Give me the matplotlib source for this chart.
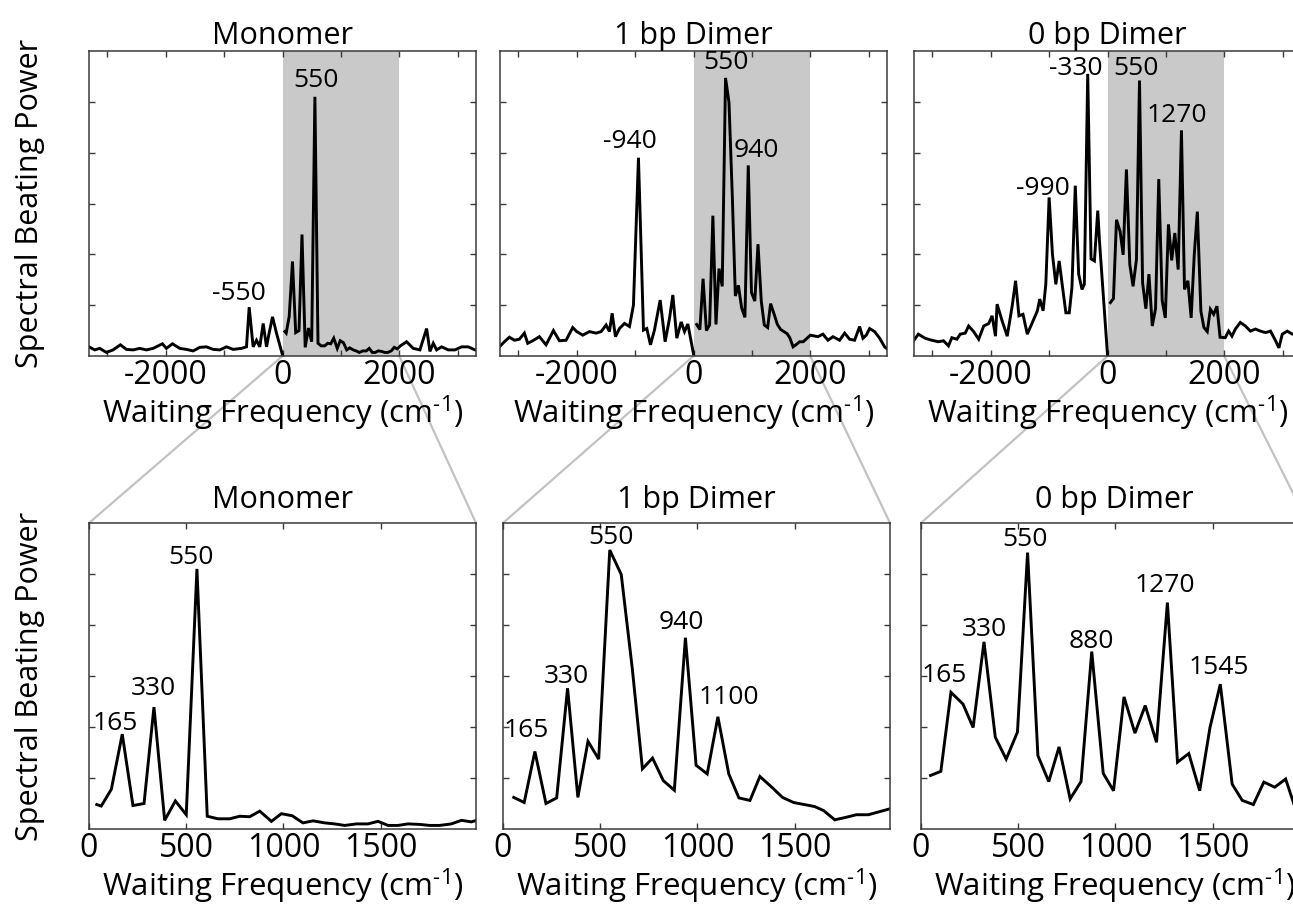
#!/usr/bin/env python3
# coding: utf-8

import numpy
import matplotlib
matplotlib.use('Agg')
from matplotlib import pyplot as plt
from matplotlib.patches import ConnectionPatch
from matplotlib.ticker import FixedLocator, FixedFormatter


TITLES = ['Monomer', '1 bp Dimer', '0 bp Dimer']
YLABEL = 'Spectral Beating Power'
XLABEL = 'Waiting Frequency (cm$^{\\text{-1}}$)'

# --- Monomer -------------------------------------------------------------
MONO_NEG_FREQ = [-3315, -3217, -3131, -3017, -2903, -2777, -2674, -2560, -2446, -2331,
                 -2217, -2057, -1989, -1886, -1760, -1646, -1531, -1417, -1303, -1189,
                 -1074, -960, -846, -703, -617, -571, -503, -446, -389, -331,
                 -274, -229, -171, -103, 0]
MONO_NEG_POW = [0.18, 0.12, 0.15, 0.07, 0.12, 0.22, 0.13, 0.12, 0.15, 0.12,
                0.15, 0.24, 0.15, 0.24, 0.15, 0.13, 0.10, 0.17, 0.18, 0.13,
                0.12, 0.18, 0.13, 0.15, 0.18, 0.96, 0.18, 0.31, 0.18, 0.64,
                0.18, 0.45, 0.77, 0.45, 0.02]
MONO_POS_FREQ = [40, 63, 115, 171, 226, 283, 334, 389, 444, 500,
                 555, 608, 663, 723, 775, 826, 878, 938, 989, 1045,
                 1100, 1152, 1212, 1263, 1315, 1375, 1435, 1486, 1538, 1589,
                 1640, 1700, 1752, 1803, 1863, 1915, 1966, 2020, 2126, 2240,
                 2354, 2469, 2526, 2583, 2640, 2726, 2840, 2954, 3069, 3183,
                 3297, 3340]
MONO_POS_POW = [0.48, 0.45, 0.78, 1.86, 0.46, 0.50, 2.39, 0.17, 0.55, 0.28,
                5.10, 0.25, 0.20, 0.20, 0.25, 0.24, 0.35, 0.15, 0.30, 0.26,
                0.12, 0.16, 0.12, 0.10, 0.07, 0.10, 0.10, 0.15, 0.07, 0.07,
                0.10, 0.09, 0.07, 0.07, 0.10, 0.17, 0.14, 0.20, 0.28, 0.15,
                0.12, 0.54, 0.09, 0.25, 0.12, 0.18, 0.12, 0.12, 0.18, 0.18,
                0.12, 0.12]

# --- 1 bp dimer ----------------------------------------------------------
DIM1_NEG_FREQ = [-3326, -3240, -3154, -3068, -2983, -2897, -2840, -2754, -2640, -2526,
                 -2400, -2297, -2183, -2069, -2000, -1897, -1783, -1669, -1583, -1497,
                 -1440, -1394, -1337, -1269, -1183, -1097, -1029, -943, -857, -800,
                 -737, -669, -571, -486, -411, -354, -286, -211, -154, -97, 0]
DIM1_NEG_POW = [0.18, 0.28, 0.37, 0.31, 0.33, 0.45, 0.25, 0.30, 0.38, 0.22,
                0.50, 0.30, 0.31, 0.56, 0.48, 0.41, 0.48, 0.45, 0.48, 0.61,
                0.48, 0.84, 0.38, 0.54, 0.64, 0.58, 1.00, 3.90, 0.51, 0.54,
                0.22, 0.51, 1.10, 0.28, 0.74, 1.20, 0.35, 0.67, 0.48, 0.63, 0.04]
DIM1_POS_FREQ = [55, 109, 164, 221, 276, 332, 385, 437, 492, 549,
                 608, 665, 717, 769, 824, 881, 938, 993, 1050, 1105,
                 1161, 1213, 1270, 1321, 1382, 1437, 1494, 1603, 1649, 1706,
                 1765, 1817, 1879, 2003, 2131, 2217, 2303, 2389, 2503, 2589,
                 2674, 2760, 2846, 2903, 2960, 3017, 3103, 3189, 3274, 3340]
DIM1_POS_POW = [0.62, 0.52, 1.52, 0.50, 0.61, 2.76, 0.62, 1.72, 1.37, 5.47,
                4.99, 3.14, 1.18, 1.39, 0.95, 0.76, 3.75, 1.25, 1.08, 2.20,
                1.08, 0.61, 0.56, 1.03, 0.82, 0.62, 0.52, 0.44, 0.36, 0.18,
                0.23, 0.28, 0.28, 0.41, 0.38, 0.43, 0.31, 0.38, 0.31, 0.45,
                0.33, 0.31, 0.58, 0.35, 0.41, 0.54, 0.48, 0.35, 0.18, 0.12]

# --- 0 bp dimer ----------------------------------------------------------
DIM0_NEG_FREQ = [-3345, -3241, -3126, -3011, -2896, -2810, -2724, -2667, -2580, -2523,
                 -2437, -2379, -2293, -2207, -2121, -2034, -1977, -1919, -1891, -1805,
                 -1718, -1632, -1575, -1517, -1448, -1374, -1287, -1201, -1161, -1103,
                 -1057, -1000, -943, -885, -828, -770, -713, -655, -609, -552,
                 -494, -437, -397, -339, -282, -224, -167, -138, 0]
DIM0_NEG_POW = [0.26, 0.43, 0.35, 0.31, 0.28, 0.30, 0.20, 0.36, 0.33, 0.43,
                0.45, 0.59, 0.48, 0.33, 0.59, 0.64, 0.79, 0.39, 1.02, 0.69,
                0.39, 0.99, 1.48, 0.79, 0.82, 0.43, 0.66, 0.89, 1.12, 0.89,
                1.41, 3.12, 2.00, 1.41, 1.87, 1.35, 0.85, 0.85, 1.35, 3.35,
                1.61, 1.31, 1.41, 5.55, 1.91, 1.87, 2.86, 2.27, 0.02]
DIM0_POS_FREQ = [49, 102, 154, 216, 268, 324, 382, 438, 496, 548,
                 601, 657, 710, 767, 823, 878, 937, 990, 1044, 1100,
                 1153, 1211, 1267, 1319, 1377, 1433, 1486, 1539, 1600, 1652,
                 1709, 1763, 1819, 1875, 1928, 2017, 2075, 2132, 2190, 2276,
                 2362, 2448, 2534, 2620, 2707, 2793, 2879, 2937, 2994, 3080,
                 3166, 3250, 3340]
DIM0_POS_POW = [1.05, 1.13, 2.68, 2.45, 1.99, 3.67, 1.80, 1.37, 1.90, 5.42,
                1.44, 0.93, 1.61, 0.59, 0.93, 3.48, 1.09, 0.75, 2.59, 1.88,
                2.42, 1.70, 4.44, 1.31, 1.48, 0.75, 1.99, 2.84, 0.88, 0.56,
                0.48, 0.92, 0.82, 0.98, 0.37, 0.36, 0.49, 0.39, 0.53, 0.66,
                0.59, 0.49, 0.53, 0.49, 0.46, 0.49, 0.30, 0.16, 0.43, 0.49,
                0.43, 0.45, 0.40]

# peak labels: (text, x, y) in data units
TOP_LABELS = [
    [('550', 571, 5.42), ('-550', -743, 1.23)],
    [('-940', -1097, 4.21), ('550', 549, 5.78), ('940', 1074, 4.05)],
    [('-330', -540, 5.65), ('550', 483, 5.65), ('1270', 1184, 4.73), ('-990', -1103, 3.29)],
]
BOTTOM_LABELS = [
    [('550', 526, 5.32), ('330', 329, 2.75), ('165', 137, 2.06)],
    [('550', 553, 5.72), ('330', 325, 2.99), ('165', 117, 1.93),
     ('940', 919, 4.05), ('1100', 1161, 2.57)],
    [('550', 536, 5.67), ('330', 326, 3.92), ('165', 119, 3.01),
     ('880', 878, 3.68), ('1270', 1255, 4.77), ('1545', 1530, 3.17)],
]

SAMPLES = [
    (MONO_NEG_FREQ, MONO_NEG_POW, MONO_POS_FREQ, MONO_POS_POW),
    (DIM1_NEG_FREQ, DIM1_NEG_POW, DIM1_POS_FREQ, DIM1_POS_POW),
    (DIM0_NEG_FREQ, DIM0_NEG_POW, DIM0_POS_FREQ, DIM0_POS_POW),
]

W, H = 1293, 907
TOP_LEFTS = [89, 500, 914]
BOTTOM_LEFTS = [89, 503, 921]
PANEL_W = 387
TOP_Y = (51, 356)
BOTTOM_Y = (523, 829)

plt.rcParams['font.family'] = ['Open Sans', 'DejaVu Sans']
plt.rcParams['mathtext.fontset'] = 'custom'
plt.rcParams['mathtext.rm'] = 'Open Sans'
plt.rcParams['axes.unicode_minus'] = False

LINE_KW = dict(color='black', lw=2.1, solid_joinstyle='miter')
SPINE_COLOR = '#3a3a3a'


def style_axes(ax, xticks, xlabels):
    for sp in ax.spines.values():
        sp.set_color(SPINE_COLOR)
        sp.set_linewidth(1.1)
    ax.xaxis.set_major_locator(FixedLocator(xticks))
    ax.xaxis.set_major_formatter(FixedFormatter(xlabels))
    ax.set_yticks([1, 2, 3, 4, 5])
    ax.set_yticklabels([])
    ax.set_ylim(0, 6)
    ax.tick_params(direction='in', length=4, width=1.0, color=SPINE_COLOR,
                   top=True, right=True, labelsize=23, pad=2)


def make_axes(fig, left, ytop, ybot):
    return fig.add_axes([left / W, 1 - ybot / H, PANEL_W / W, (ybot - ytop) / H])


def main():
    fig = plt.figure(figsize=(W / 100, H / 100), dpi=100)

    for i, (nf, npw, pf, ppw) in enumerate(SAMPLES):
        top = make_axes(fig, TOP_LEFTS[i], *TOP_Y)
        top.axvspan(0, 2000, color='#c9c9c9', lw=0, zorder=0)
        top.plot(nf, npw, **LINE_KW)
        top.plot(pf, ppw, **LINE_KW)
        top.set_xlim(-3315, 3315)
        style_axes(top, [-3000, -2000, -1000, 0, 1000, 2000, 3000],
                   ['', '-2000', '', '0', '', '2000', ''])
        top.set_title(TITLES[i], fontsize=22, pad=5)
        top.set_xlabel(XLABEL, fontsize=22.5, labelpad=1)
        for txt, x, y in TOP_LABELS[i]:
            top.text(x, y, txt, fontsize=19, ha='center', va='center')

        bot = make_axes(fig, BOTTOM_LEFTS[i], *BOTTOM_Y)
        bot.plot(pf, ppw, **LINE_KW)
        bot.set_xlim(0, 1990)
        style_axes(bot, [0, 500, 1000, 1500], ['0', '500', '1000', '1500'])
        bot.set_title(TITLES[i], fontsize=22, pad=11)
        bot.set_xlabel(XLABEL, fontsize=22.5, labelpad=1)
        for txt, x, y in BOTTOM_LABELS[i]:
            bot.text(x, y, txt, fontsize=19, ha='center', va='center')

        for xa, xb in [(0, 0), (2000, 1)]:
            con = ConnectionPatch(xyA=(xa, 0), coordsA=top.transData,
                                  xyB=(xb, 1), coordsB=bot.transAxes,
                                  color='#c2c2c2', lw=1.6, zorder=-1)
            fig.add_artist(con)

        if i == 0:
            top.set_ylabel(YLABEL, fontsize=22, labelpad=30)
            bot.set_ylabel(YLABEL, fontsize=22, labelpad=30)

    fig.savefig('out.png', dpi=100)


if __name__ == "__main__":
    main()
